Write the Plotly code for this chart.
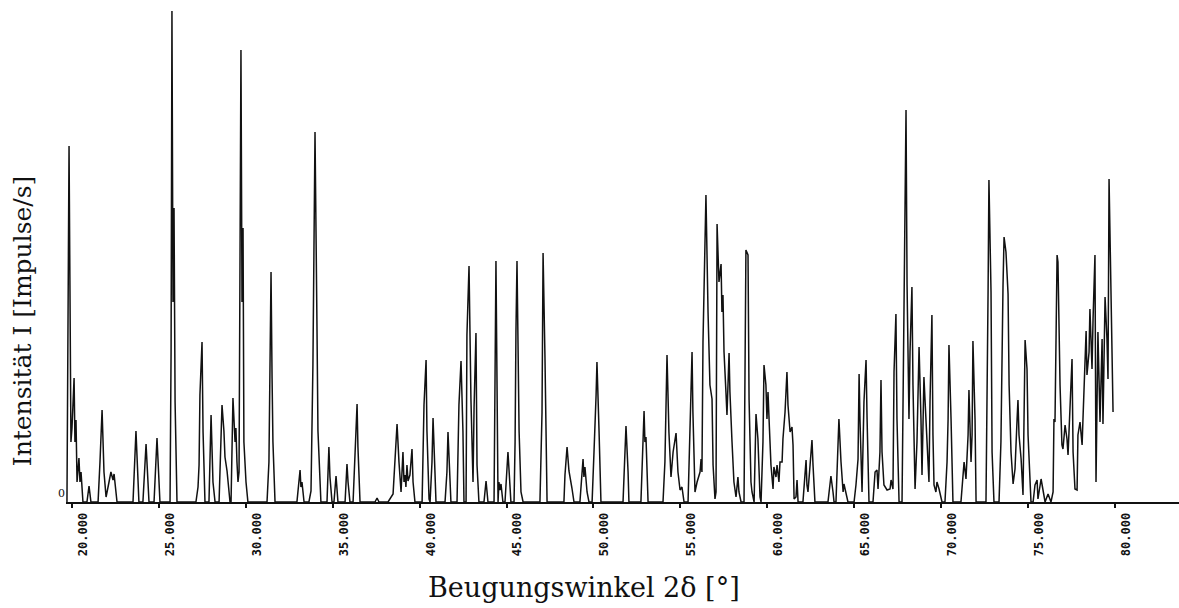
import plotly.graph_objects as go

# Diffraction angle 2-theta (degrees) and intensity (impulses/s, arbitrary scale)
two_theta = [
    19.71, 19.83, 19.94, 20.00, 20.12, 20.17, 20.23, 20.29, 20.40, 20.46, 20.52, 20.63,
    20.86, 20.98, 21.09,
    21.50, 21.61, 21.73, 21.84, 21.96, 22.13, 22.24, 22.36, 22.42, 22.59,
    23.51, 23.68, 23.85, 24.08, 24.26, 24.43, 24.72, 24.89, 25.06,
    25.64, 25.70, 25.75, 25.81, 25.87, 25.93, 26.04,
    27.13, 27.25, 27.31, 27.36, 27.48, 27.54, 27.59, 27.65,
    27.88, 28.00, 28.11, 28.23,
    28.46, 28.63, 28.74, 28.80, 28.92, 29.09,
    29.15, 29.26, 29.38, 29.43, 29.49, 29.55,
    29.61, 29.72, 29.78, 29.84, 29.89, 30.01, 30.12,
    31.22, 31.33, 31.45, 31.51, 31.56, 31.68,
    32.94, 33.12, 33.17, 33.23, 33.35,
    33.63, 33.75, 33.86, 33.98, 34.09, 34.15, 34.32,
    34.67, 34.78, 34.84, 34.96,
    35.07, 35.19, 35.25, 35.30,
    35.71, 35.82, 35.88, 35.99,
    36.17, 36.28, 36.40, 36.45, 36.57,
    37.43, 37.55, 37.66,
    38.18, 38.47, 38.58, 38.70, 38.81, 38.87, 38.93, 39.04, 39.10, 39.16, 39.21, 39.27, 39.33, 39.44, 39.56, 39.62, 39.73,
    40.14, 40.19, 40.25, 40.37, 40.42, 40.54,
    40.60, 40.71, 40.77, 40.88, 40.94,
    41.46, 41.57, 41.63, 41.75, 41.80,
    42.15, 42.21, 42.26, 42.38, 42.49, 42.55,
    42.67, 42.72, 42.84, 42.95, 43.07, 43.13, 43.24, 43.30, 43.41,
    43.70, 43.82, 43.93,
    44.28, 44.39, 44.51, 44.56, 44.62, 44.68, 44.79,
    44.91, 45.02, 45.08, 45.20, 45.25,
    45.43, 45.49, 45.54, 45.60, 45.72, 45.83, 45.95,
    46.92, 47.04, 47.10, 47.21, 47.33,
    48.30, 48.36, 48.48, 48.59, 48.76, 48.88,
    49.22, 49.34, 49.40, 49.45, 49.51, 49.63, 49.74,
    49.92, 49.97, 50.03, 50.15, 50.20, 50.32, 50.43,
    51.70, 51.81, 51.87, 51.99, 52.04,
    52.73, 52.85, 52.91, 52.96, 53.02, 53.14,
    54.00, 54.11, 54.17, 54.23, 54.34, 54.46, 54.58, 54.75, 54.86, 54.98, 55.09, 55.21,
    55.44, 55.55, 55.67, 55.72, 55.84, 55.96, 56.13, 56.19, 56.24,
    56.30, 56.36, 56.47, 56.59, 56.70, 56.82, 56.88, 56.99,
    57.05, 57.11, 57.16, 57.22, 57.34, 57.39, 57.45, 57.51, 57.62, 57.68, 57.80, 57.85, 57.97, 58.08, 58.20, 58.31, 58.37, 58.49,
    58.66, 58.72, 58.77, 58.89, 58.95, 59.06, 59.12,
    59.24, 59.29, 59.35, 59.46, 59.58,
    59.64, 59.75, 59.81, 59.92, 59.98, 60.04, 60.10, 60.21, 60.33,
    60.38, 60.50, 60.56, 60.67, 60.73, 60.85, 60.90, 61.02, 61.13, 61.19, 61.31, 61.42, 61.48, 61.54, 61.65, 61.71, 61.77,
    62.05, 62.17, 62.23, 62.28, 62.34, 62.46, 62.57, 62.63, 62.74,
    63.49, 63.61, 63.66, 63.78, 63.84,
    63.95, 64.07, 64.12, 64.24, 64.36, 64.41, 64.53, 64.64,
    64.99, 65.10, 65.22, 65.28, 65.33, 65.45, 65.56, 65.68, 65.74, 65.85,
    66.08, 66.20, 66.31, 66.37, 66.48, 66.54, 66.60, 66.71, 66.89, 67.06, 67.12, 67.23,
    67.29, 67.40, 67.46, 67.58,
    67.75, 67.86, 67.98, 68.04, 68.15, 68.21, 68.32, 68.38, 68.50, 68.61, 68.73, 68.84, 68.90, 68.96, 69.01, 69.07,
    69.19, 69.30, 69.36, 69.47, 69.53, 69.59, 69.70, 69.76, 69.88, 70.05,
    70.22, 70.34, 70.40, 70.45, 70.57, 70.68,
    71.14, 71.26, 71.32, 71.43, 71.55, 71.60, 71.72, 71.78, 71.83, 71.95, 72.01,
    72.58, 72.64, 72.70, 72.75, 72.87, 72.93, 73.04,
    73.33, 73.44, 73.56, 73.62, 73.73, 73.85, 73.91, 74.02, 74.14, 74.25, 74.37, 74.42, 74.48, 74.60, 74.71,
    74.77, 74.83, 74.94, 75.00, 75.17,
    75.29, 75.40, 75.52, 75.57, 75.75, 75.86, 75.98, 76.15, 76.32, 76.44,
    76.49, 76.55, 76.67, 76.72, 76.84, 76.95, 77.01, 77.13, 77.24, 77.30, 77.41, 77.53, 77.59, 77.70, 77.82,
    77.87, 77.99, 78.11, 78.16, 78.28, 78.34, 78.39, 78.51, 78.56, 78.68, 78.74, 78.85, 78.91, 78.97, 79.02,
    79.14, 79.26, 79.31, 79.43, 79.54, 79.60, 79.66, 79.77, 79.89,
]

intensity = [
    0, 356, 60, 74, 124, 60, 82, 20, 44, 20, 30, 0,
    0, 16, 0,
    0, 40, 92, 30, 5, 20, 30, 22, 28, 0,
    0, 71, 0, 0, 58, 0, 0, 64, 0,
    0, 150, 491, 200, 294, 100, 0,
    0, 15, 37, 107, 160, 70, 30, 0,
    0, 87, 20, 0,
    0, 97, 71, 45, 31, 0,
    0, 104, 60, 74, 40, 20,
    30, 452, 200, 274, 60, 20, 0,
    0, 40, 230, 124, 60, 0,
    0, 32, 15, 20, 0,
    0, 11, 137, 370, 181, 71, 0,
    0, 55, 25, 0,
    0, 26, 15, 0,
    0, 38, 20, 0,
    0, 50, 98, 55, 0,
    0, 4, 0,
    0, 8, 40, 78, 40, 20, 10, 50, 20, 27, 15, 37, 21, 27, 53, 20, 0,
    0, 47, 97, 142, 71, 3,
    0, 40, 84, 30, 0,
    0, 30, 70, 20, 0,
    0, 60, 97, 141, 71, 0,
    0, 167, 236, 103, 20, 94, 169, 37, 0,
    0, 21, 0,
    0, 241, 0, 20, 12, 18, 0,
    0, 30, 50, 15, 0,
    0, 60, 170, 241, 71, 10, 0,
    0, 90, 249, 144, 0,
    0, 27, 55, 31, 14, 0,
    0, 30, 43, 25, 35, 10, 0,
    0, 37, 50, 107, 140, 71, 0,
    0, 50, 76, 30, 0,
    0, 50, 91, 60, 65, 0,
    0, 40, 117, 147, 70, 25, 50, 69, 30, 12, 15, 0,
    0, 70, 150, 90, 10, 20, 30, 43, 30,
    160, 223, 307, 190, 117, 103, 37, 3,
    10, 278, 243, 220, 238, 190, 207, 150, 110, 87, 149, 110, 60, 20, 5, 25, 10, 0,
    0, 103, 252, 247, 103, 20, 10,
    0, 40, 88, 63, 5,
    0, 60, 137, 117, 83, 110, 83, 37, 13,
    35, 25, 37, 20, 40, 40, 63, 90, 130, 97, 70, 75, 57, 3, 5, 22, 0,
    0, 33, 42, 17, 10, 37, 62, 37, 0,
    0, 20, 26, 10, 0,
    0, 63, 83, 40, 10, 18, 8, 0,
    0, 17, 43, 128, 83, 10, 100, 142, 83, 0,
    0, 30, 32, 13, 50, 122, 50, 17, 12, 13, 22, 13,
    130, 188, 83, 0,
    0, 217, 392, 217, 83, 150, 215, 117, 13, 60, 155, 83, 27, 80, 125, 103,
    50, 20, 100, 187, 67, 17, 10, 20, 13, 0,
    0, 40, 83, 157, 83, 0,
    0, 30, 40, 23, 67, 112, 40, 67, 161, 83, 0,
    0, 83, 210, 322, 210, 50, 0,
    0, 60, 217, 265, 250, 208, 117, 50, 18, 33, 83, 102, 67, 43, 7,
    117, 162, 133, 67, 0,
    0, 17, 22, 3, 23, 12, 0, 8, 0, 10,
    83, 80, 247, 240, 117, 57, 53, 77, 63, 47, 100, 143, 50, 13, 12,
    67, 80, 57, 83, 150, 171, 127, 150, 193, 133, 183, 247, 20, 133, 170,
    80, 163, 78, 205, 163, 123, 323, 207, 90,
]

tick_values = [20, 25, 30, 35, 40, 45, 50, 55, 60, 65, 70, 75, 80]
tick_labels = ["20.000", "25.000", "30.000", "35.000", "40.000", "45.000", "50.000",
               "55.000", "60.000", "65.000", "70.000", "75.000", "80.000"]

x_title = "Beugungswinkel 2δ [°]"
y_title = "Intensität I [Impulse/s]"

fig = go.Figure()
fig.add_trace(go.Scatter(
    x=two_theta, y=intensity, mode="lines",
    line=dict(color="#111111", width=1.5),
    hoverinfo="x+y", showlegend=False,
))

fig.update_layout(
    width=1179, height=608,
    margin=dict(l=66, r=0, t=8, b=106),
    paper_bgcolor="white", plot_bgcolor="white",
    showlegend=False,
    xaxis=dict(
        range=[19.655, 83.684],
        showgrid=False, zeroline=False,
        showline=True, linecolor="#111111", linewidth=2,
        ticks="outside", ticklen=4, tickwidth=1.5, tickcolor="#111111",
        tickvals=tick_values, ticktext=tick_labels,
        tickangle=-90, ticklabelshift=11,
        tickfont=dict(family="DejaVu Sans Mono", size=12, color="#111111", weight="bold"),
        automargin=False,
    ),
    yaxis=dict(
        range=[0, 494],
        showgrid=False, zeroline=False, showline=False,
        ticks="", tickvals=[0], ticktext=["0"], ticklabelshift=-9,
        tickfont=dict(family="DejaVu Serif", size=11, color="#111111"),
        automargin=False,
    ),
    annotations=[
        dict(text=x_title, xref="paper", yref="paper", x=0.465, y=-0.174,
             xanchor="center", yanchor="middle", showarrow=False,
             font=dict(family="DejaVu Serif", size=27, color="#111111")),
        dict(text=y_title, xref="paper", yref="paper", x=-0.0395, y=0.366,
             xanchor="center", yanchor="middle", showarrow=False, textangle=-90,
             font=dict(family="DejaVu Serif", size=25, color="#111111")),
    ],
)

fig.write_html("out.html")
